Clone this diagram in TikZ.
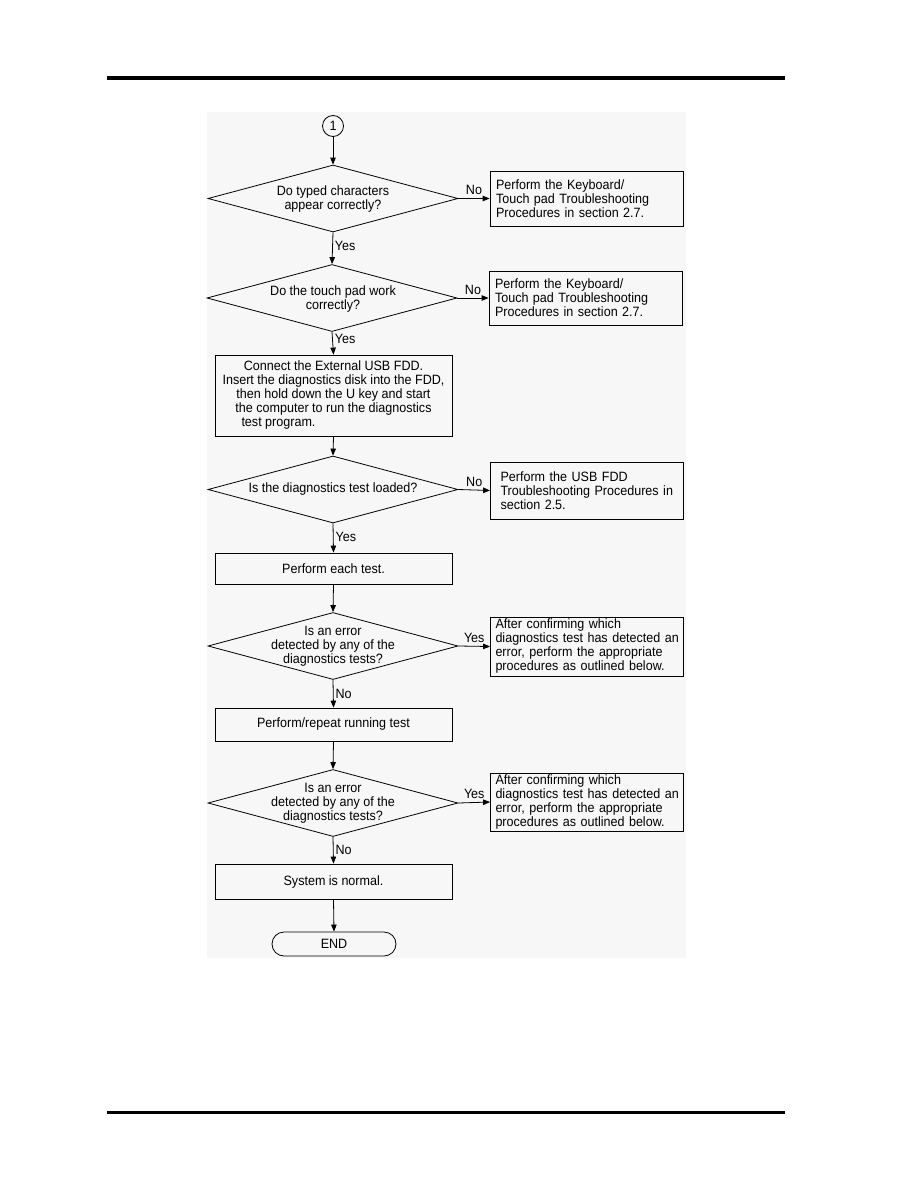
\documentclass[tikz,border=0pt]{standalone}
\usepackage{fontspec}
\setmainfont{Liberation Sans}[FakeStretch=0.93]
\usetikzlibrary{shapes.geometric,arrows.meta}
\begin{document}
\begin{tikzpicture}[x=1pt,y=-1pt,
  every node/.style={font=\fontsize{13.5}{14}\selectfont},
  line/.style={draw=black,line width=0.8pt},
  arr/.style={line,-{Triangle[length=7pt,width=5.5pt]}},
  dec/.style={diamond,draw=black,line width=0.8pt,minimum width=250pt,minimum height=67pt,inner sep=0pt},
  dtext/.style={align=center,inner sep=0pt},
  mainbox/.style={rectangle,draw=black,line width=0.8pt,minimum width=237pt,align=center,inner sep=0pt},
  sidebox/.style={rectangle,draw=black,line width=0.8pt,minimum width=193pt,text width=187pt,align=left,inner sep=0pt,inner xsep=3pt},
  lab/.style={inner sep=0pt}
]
\useasboundingbox (0,0) rectangle (918,1188);
\fill[white] (0,0) rectangle (918,1188);
% page rules
\fill[black] (107,76) rectangle (785,80);
\fill[black] (107,1111) rectangle (785,1114);
% light background of the chart
\fill[black!3] (207,112) rectangle (686,958);

% start connector
\node[circle,draw=black,line width=0.8pt,minimum size=21pt,inner sep=0pt] (c1) at (333,126) {1};

% decision 1
\node[dec] (d1) at (333,198.5) {};
\node[dtext] (d1t) at (333,199) {Do typed characters\\appear correctly?};
\node[sidebox,minimum height=55pt] (b1) at (586.5,198.5) {\hspace*{3pt}Perform the Keyboard/\\\hspace*{3pt}Touch pad Troubleshooting\\\hspace*{3pt}Procedures in section 2.7.};

% decision 2
\node[dec] (d2) at (332,298) {};
\node[dtext] (d2t) at (333,299) {Do the touch pad work\\correctly?};
\node[sidebox,minimum height=54pt] (b2) at (585.5,298) {\hspace*{3pt}Perform the Keyboard/\\\hspace*{3pt}Touch pad Troubleshooting\\\hspace*{3pt}Procedures in section 2.7.};

% process box 3
\node[mainbox,minimum height=81pt] (p3) at (333.5,395.5) {Connect the External USB FDD.\\Insert the diagnostics disk into the FDD,\\then hold down the U key and start\\the computer to run the diagnostics\\\makebox[202pt][l]{\hspace{9pt}test program.}};

% decision 3
\node[dec] (d3) at (333,489.5) {};
\node[dtext] (d3t) at (333,489.5) {Is the diagnostics test loaded?};
\node[sidebox,minimum height=57pt] (b4) at (587,490.5) {\hspace*{7pt}Perform the USB FDD\\\hspace*{7pt}Troubleshooting Procedures in\\\hspace*{7pt}section 2.5.};

% process box 5
\node[mainbox,minimum height=31pt] (p5) at (333.5,568.5) {Perform each test.};

% decision 4
\node[dec] (d4) at (333,646) {};
\node[dtext] (d4t) at (333,646) {Is an error\\detected by any of the\\diagnostics tests?};
\node[sidebox,minimum height=59pt] (b6) at (587,646.5) {\hspace*{2pt}After confirming which\\\hspace*{2pt}diagnostics test has detected an\\\hspace*{2pt}error, perform the appropriate\\\hspace*{2pt}procedures as outlined below.};

% process box 7
\node[mainbox,minimum height=33pt] (p7) at (333.5,724.5) {Perform/repeat running test};

% decision 5
\node[dec] (d5) at (333,803) {};
\node[dtext] (d5t) at (333,803) {Is an error\\detected by any of the\\diagnostics tests?};
\node[sidebox,minimum height=58pt] (b8) at (587,802) {\hspace*{2pt}After confirming which\\\hspace*{2pt}diagnostics test has detected an\\\hspace*{2pt}error, perform the appropriate\\\hspace*{2pt}procedures as outlined below.};

% process box 9
\node[mainbox,minimum height=35pt] (p9) at (333.5,881.5) {System is normal.};

% end terminator
\node[rectangle,rounded corners=12pt,draw=black,line width=0.8pt,minimum width=124pt,minimum height=24pt,inner sep=0pt] (e) at (334,944) {END};

% connectors
\draw[arr] (c1) -- (d1.north);
\draw[arr] (d1.east) -- (b1.west) node[lab,pos=0.5,above=3pt] (l1) {No};
\draw[arr] (d1.south) -- (d2.north) node[lab,pos=0.42,right=2pt] (l2) {Yes};
\draw[arr] (d2.east) -- (b2.west) node[lab,pos=0.5,above=3pt] (l3) {No};
\draw[arr] (d2.south) -- (p3.north) node[lab,pos=0.3,right=2pt] (l4) {Yes};
\draw[arr] (p3.south) -- (d3.north);
\draw[arr] (d3.east) -- (b4.west) node[lab,pos=0.5,above=3pt] (l5) {No};
\draw[arr] (d3.south) -- (p5.north) node[lab,pos=0.45,right=2pt] (l6) {Yes};
\draw[arr] (p5.south) -- (d4.north);
\draw[arr] (d4.east) -- (b6.west) node[lab,pos=0.5,above=3pt] (l7) {Yes};
\draw[arr] (d4.south) -- (p7.north) node[lab,pos=0.5,right=2pt] (l8) {No};
\draw[arr] (p7.south) -- (d5.north);
\draw[arr] (d5.east) -- (b8.west) node[lab,pos=0.5,above=3pt] (l9) {Yes};
\draw[arr] (d5.south) -- (p9.north) node[lab,pos=0.5,right=2pt] (l10) {No};
\draw[arr] (p9.south) -- (e.north);
\end{tikzpicture}
\end{document}
